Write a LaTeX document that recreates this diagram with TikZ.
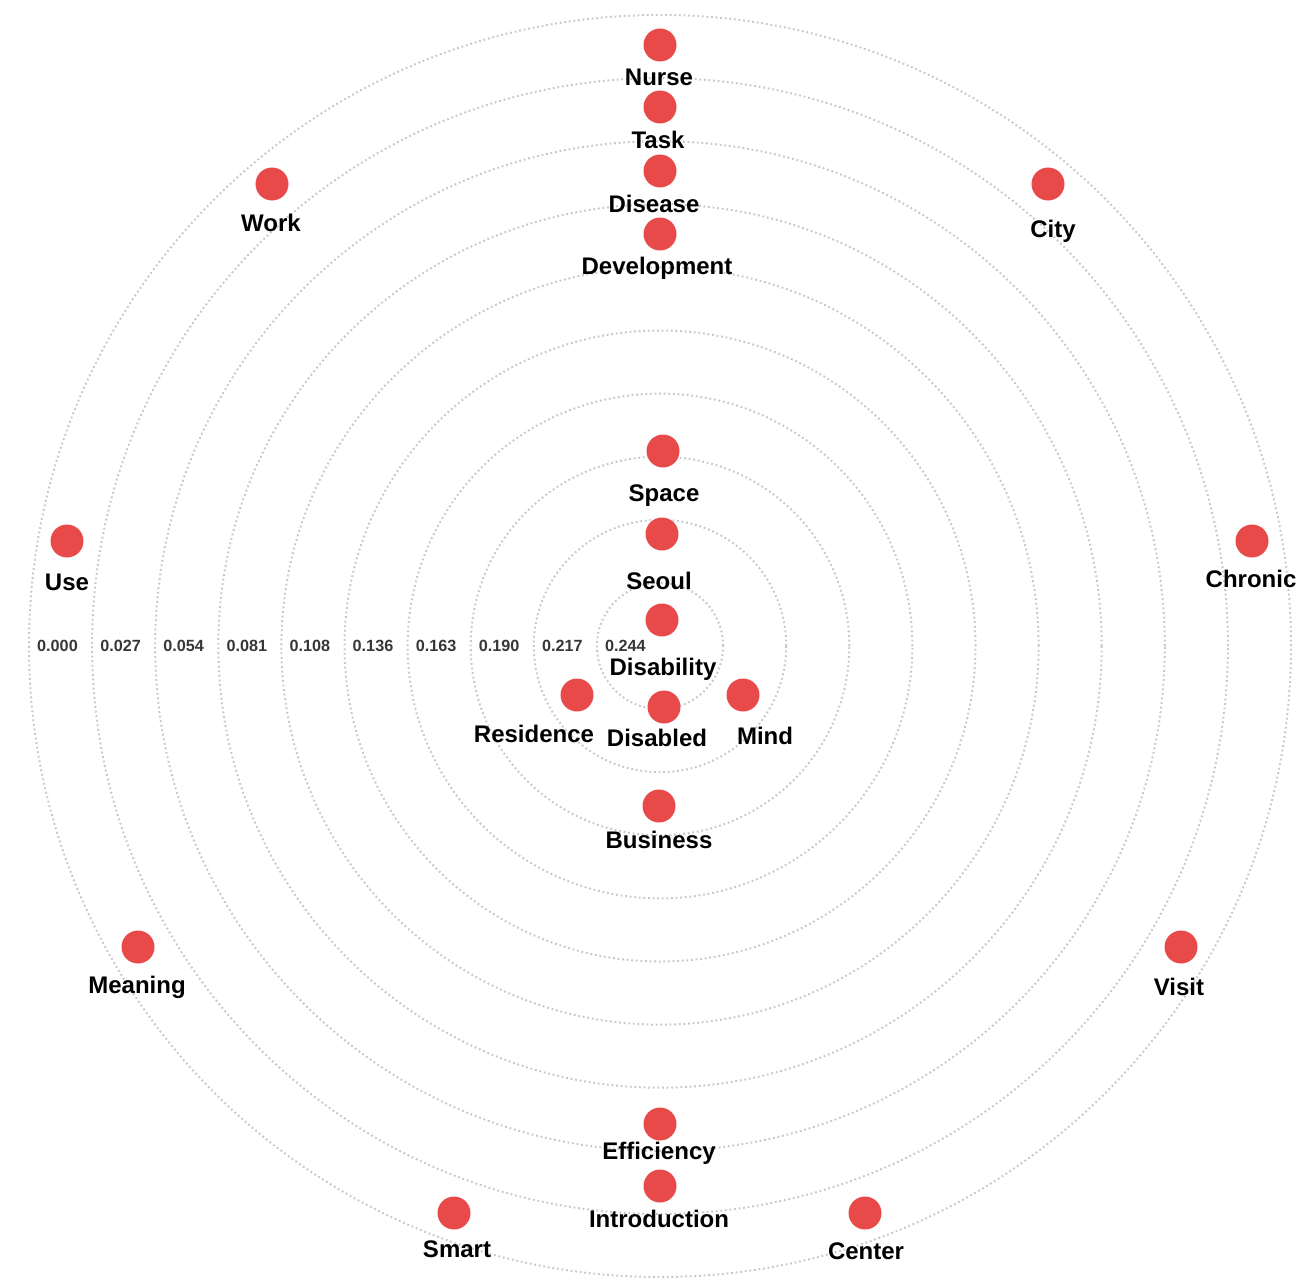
\documentclass[tikz,border=0pt]{standalone}
\usepackage{fontspec}
\setmainfont{Liberation Sans}
\definecolor{dotred}{RGB}{232,74,74}
\definecolor{ringgray}{RGB}{200,200,200}
\definecolor{scalegray}{RGB}{55,55,55}

\begin{document}
\begin{tikzpicture}[x=0.5pt,y=-0.5pt,
    ring/.style={draw=ringgray,line width=1pt,dash pattern=on 0.9pt off 1.4pt},
    kw/.style={circle,fill=dotred,minimum size=16.5pt,inner sep=0pt},
    word/.style={font=\bfseries\fontsize{12}{13}\selectfont,inner sep=0pt,
                 text height=8.6pt,text depth=0pt},
    tick/.style={font=\bfseries\fontsize{8.1}{9}\selectfont,text=scalegray,
                 inner sep=0pt,text height=5.8pt,text depth=0pt}]
  \useasboundingbox (0,0) rectangle (1306,1279);
  \coordinate (ctr) at (660,646);

  % rings
  \foreach \r in {1,...,10}
    \draw[ring] (ctr) circle (31.55pt*\r);

  % scale
  \foreach \v [count=\i from 0] in {0.000,0.027,0.054,0.081,0.108,0.136,0.163,0.190,0.217,0.244}
    \node[tick] (s\i) at (57.5+63.1*\i,646) {\v};

  % outer ring
  \node[kw] (nurse) at (660,45) {};
  \node[word] (nurse-l) at (659,77) {Nurse};
  \node[kw] (work) at (272,184) {};
  \node[word] (work-l) at (271,223) {Work};
  \node[kw] (city) at (1048,184) {};
  \node[word] (city-l) at (1053,229) {City};
  \node[kw] (use) at (67,541) {};
  \node[word] (use-l) at (67,582) {Use};
  \node[kw] (chronic) at (1252,541) {};
  \node[word] (chronic-l) at (1251,579) {Chronic};
  \node[kw] (meaning) at (138,947) {};
  \node[word] (meaning-l) at (137,985) {Meaning};
  \node[kw] (visit) at (1181,947) {};
  \node[word] (visit-l) at (1179,987) {Visit};
  \node[kw] (smart) at (454,1213) {};
  \node[word] (smart-l) at (457,1249) {Smart};
  \node[kw] (center) at (865,1213) {};
  \node[word] (center-l) at (866,1251) {Center};

  % upper column
  \node[kw] (task) at (660,107) {};
  \node[word] (task-l) at (658,140) {Task};
  \node[kw] (disease) at (660,171) {};
  \node[word] (disease-l) at (654,204) {Disease};
  \node[kw] (devel) at (660,234) {};
  \node[word] (devel-l) at (657,266) {Development};

  % inner rings
  \node[kw] (space) at (663,451) {};
  \node[word] (space-l) at (664,493) {Space};
  \node[kw] (seoul) at (662,534) {};
  \node[word] (seoul-l) at (659,581) {Seoul};
  \node[kw] (disab) at (662,620) {};
  \node[word] (disab-l) at (663,667) {Disability};
  \node[kw] (resid) at (577,695) {};
  \node[word] (resid-l) at (534,734) {Residence};
  \node[kw] (disabled) at (664,707) {};
  \node[word] (disabled-l) at (657,738) {Disabled};
  \node[kw] (mind) at (743,695) {};
  \node[word] (mind-l) at (765,736) {Mind};
  \node[kw] (business) at (659,806) {};
  \node[word] (business-l) at (659,840) {Business};

  % lower column
  \node[kw] (effic) at (660,1124) {};
  \node[word] (effic-l) at (659,1151) {Efficiency};
  \node[kw] (intro) at (660,1186) {};
  \node[word] (intro-l) at (659,1219) {Introduction};
\end{tikzpicture}
\end{document}
